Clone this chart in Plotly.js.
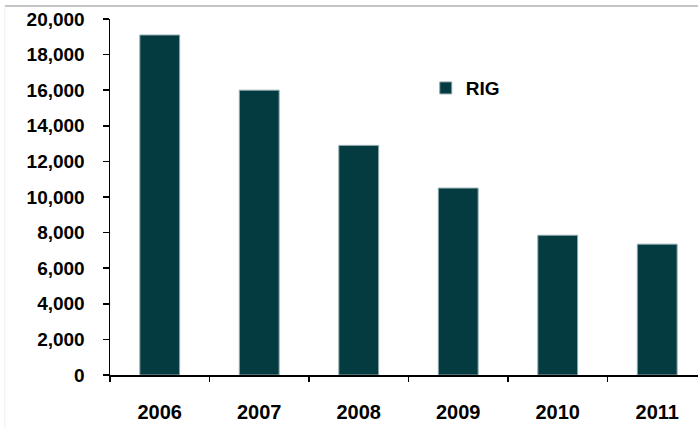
<!DOCTYPE html>
<html>
<head>
<meta charset="utf-8">
<script src="https://cdn.plot.ly/plotly-3.0.1.min.js"></script>
<style>
  html, body { margin: 0; padding: 0; background: #ffffff; }
  #chart { width: 698px; height: 434px; }
</style>
</head>
<body>
<div id="chart"></div>
<script>
// Annual values for RIG
const years = ['2006', '2007', '2008', '2009', '2010', '2011'];
const rigValues = [19100, 16000, 12900, 10500, 7850, 7350];
const yTicks = [0, 2000, 4000, 6000, 8000, 10000, 12000, 14000, 16000, 18000, 20000];
const seriesName = 'RIG';

const barColor = '#033b40';
const fontFamily = 'Liberation Sans, Arial, sans-serif';

const traces = [{
  type: 'bar',
  x: years,
  y: rigValues,
  name: seriesName,
  marker: { color: barColor, line: { color: '#8fa8ab', width: 1 } },
  hoverinfo: 'x+y'
}];

const layout = {
  width: 698,
  height: 434,
  margin: { l: 110, r: 0, t: 19, b: 59, pad: 0 },
  paper_bgcolor: '#ffffff',
  plot_bgcolor: '#ffffff',
  bargap: 0.6,
  showlegend: true,
  legend: {
    x: 0.537, y: 0.806, xanchor: 'left', yanchor: 'middle',
    bgcolor: 'rgba(0,0,0,0)',
    font: { family: fontFamily, size: 19, weight: 'bold', color: '#000000' }
  },
  xaxis: {
    type: 'category',
    range: [-0.5, 5.41],
    showline: true, linecolor: '#000000', linewidth: 1.5,
    ticks: 'outside', tickson: 'boundaries', ticklen: 5, tickwidth: 1.5, tickcolor: '#000000',
    ticklabelstandoff: 18,
    showgrid: false, zeroline: false,
    tickfont: { family: fontFamily, size: 20, weight: 'bold', color: '#000000' }
  },
  yaxis: {
    range: [0, 20000],
    tickvals: yTicks,
    tickformat: ',d',
    showline: true, linecolor: '#000000', linewidth: 1.5,
    ticks: 'outside', ticklen: 6, tickwidth: 1.5, tickcolor: '#000000',
    ticklabelstandoff: 14,
    showgrid: false, zeroline: false,
    tickfont: { family: fontFamily, size: 19, weight: 'bold', color: '#000000' }
  },
  shapes: [
    // frame lines around the chart area
    { type: 'line', xref: 'paper', yref: 'paper', x0: -0.179, x1: 1.0, y0: 1.0365, y1: 1.0365,
      line: { color: '#c4c4c4', width: 2 } },
    { type: 'line', xref: 'paper', yref: 'paper', x0: -0.179, x1: -0.179, y0: 1.0365, y1: -0.15,
      line: { color: '#f0f0f0', width: 1 } }
  ]
};

Plotly.newPlot('chart', traces, layout, { displayModeBar: false, staticPlot: true });
</script>
</body>
</html>
